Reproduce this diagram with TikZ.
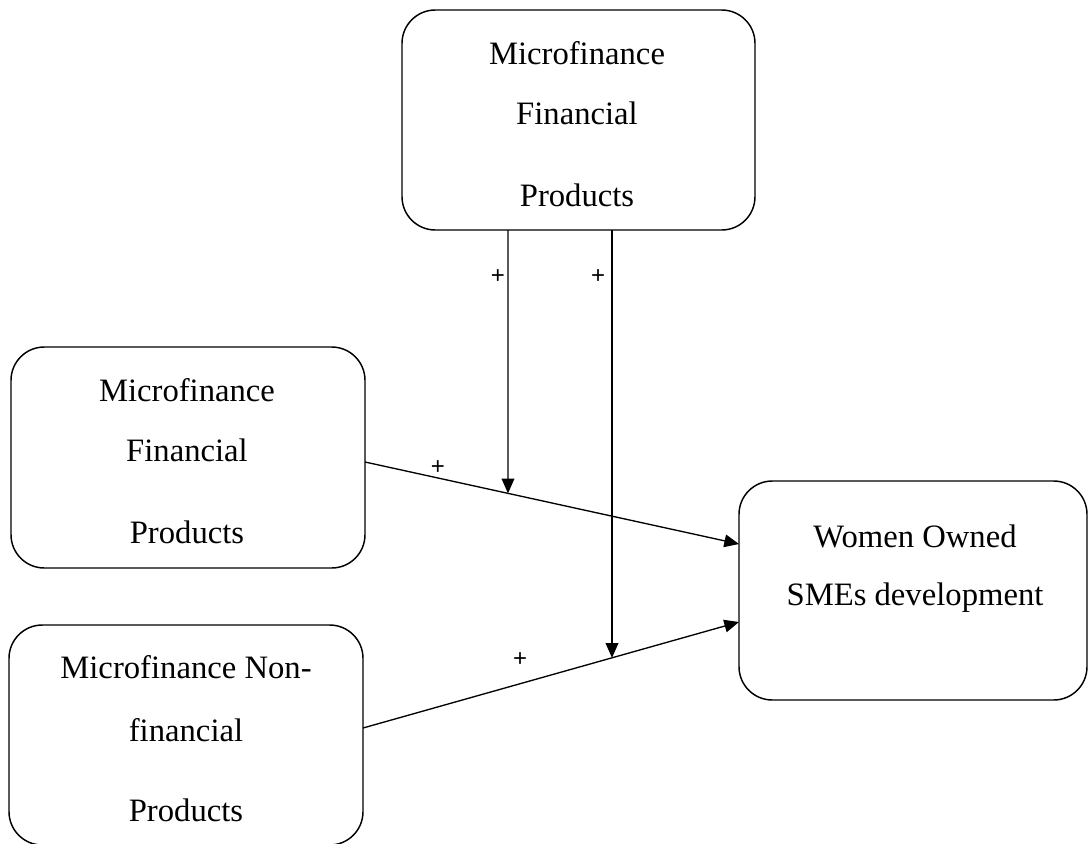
\documentclass[tikz,border=0pt]{standalone}
\usepackage{fontspec}
\setmainfont{Liberation Serif}
\newfontfamily\signfont{Liberation Sans}
\usetikzlibrary{arrows.meta,calc}
\begin{document}
\begin{tikzpicture}[x=0.75pt,y=-0.75pt,
  box/.style={draw, line width=1.1pt, rounded corners=25pt, inner sep=0pt, outer sep=0pt},
  boxtext/.style={align=center, inner sep=0pt, font=\fontsize{24.5}{45}\selectfont},
  sign/.style={inner sep=0pt, font=\signfont\fontsize{18}{20}\selectfont},
  link/.style={line width=1pt, -{Triangle[length=11pt,width=9.5pt]}}]
  \useasboundingbox (0,0) rectangle (1088,843);

  % boxes
  \node[box, minimum width=264.75pt, minimum height=165pt] (mod) at (578.5,120) {};
  \node[box, minimum width=265.5pt, minimum height=165.75pt] (fin) at (188,457.5) {};
  \node[box, minimum width=265.5pt, minimum height=165pt] (nonfin) at (186,735) {};
  \node[box, minimum width=261pt, minimum height=164.25pt] (sme) at (913,590.5) {};

  % box texts
  \node[boxtext] (modtxt) at (577,124) {Microfinance\\Financial\\[16.5pt]Products};
  \node[boxtext] (fintxt) at (187,461) {Microfinance\\Financial\\[16.5pt]Products};
  \node[boxtext] (nonfintxt) at (186,738.5) {Microfinance Non-\\[2.25pt]financial\\[15pt]Products};
  \node[boxtext, font=\fontsize{24.5}{43.5}\selectfont] (smetxt) at (915,569) {Women Owned\\SMEs development};

  % connector end points
  \coordinate (s1) at ($(fin.east)+(0,4.5)$);
  \coordinate (e1) at ($(sme.west)+(0,-46.5)$);
  \coordinate (s2) at ($(nonfin.east)+(0,-7)$);
  \coordinate (e2) at ($(sme.west)+(0,31.5)$);
  \coordinate (t1) at ($(mod.south)+(-70.5,0)$);
  \coordinate (t1b) at ($(t1)+(0,500)$);
  \coordinate (t2) at ($(mod.south)+(33.5,0)$);
  \coordinate (t2b) at ($(t2)+(0,600)$);
  \coordinate (j1) at (intersection of s1--e1 and t1--t1b);
  \coordinate (j2) at (intersection of s2--e2 and t2--t2b);

  % connectors
  \draw[link] (s1) -- (e1);
  \draw[link] (s2) -- (e2);
  \draw[link] (t1) -- (j1);
  \draw[link] (t2) -- (j2);

  % signs
  \node[sign] (p1) at (498,277) {+};
  \node[sign] (p2) at (598,277) {+};
  \node[sign] (p3) at (438,468) {+};
  \node[sign] (p4) at (520,660) {+};
\end{tikzpicture}
\end{document}
